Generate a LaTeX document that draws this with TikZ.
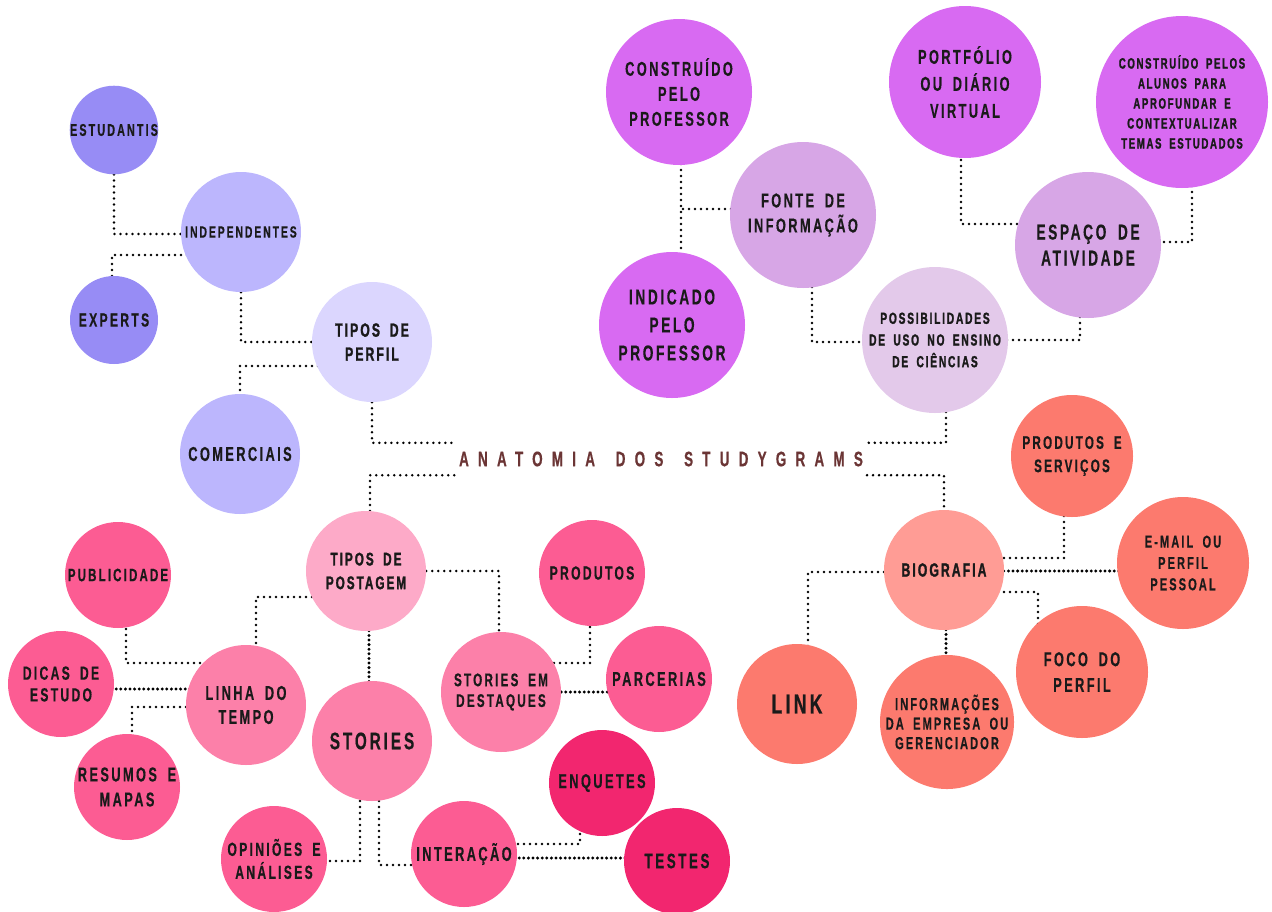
\documentclass[tikz,border=0pt]{standalone}
\usepackage{fontspec}
\usetikzlibrary{backgrounds,calc}
\newfontfamily\bb{Liberation Sans Bold}[FakeStretch=0.64, LetterSpace=12, WordSpace=1.8, FakeBold=0.4]
\newfontfamily\bbh{Liberation Sans Bold}[FakeStretch=0.64, LetterSpace=11, WordSpace=1.8, FakeBold=1.4]
\newfontfamily\bbt{Liberation Sans Bold}[FakeStretch=0.64, LetterSpace=44, WordSpace=1.6, FakeBold=0.6]
\definecolor{cA}{HTML}{978CF5}
\definecolor{cB}{HTML}{BCB6FD}
\definecolor{cC}{HTML}{DBD6FE}
\definecolor{cD}{HTML}{D86AF2}
\definecolor{cE}{HTML}{D7A6E6}
\definecolor{cF}{HTML}{E3C9EA}
\definecolor{cG}{HTML}{FF9C95}
\definecolor{cH}{HTML}{FC7A6E}
\definecolor{cI}{HTML}{FDAAC8}
\definecolor{cJ}{HTML}{FC80A9}
\definecolor{cK}{HTML}{FC5C93}
\definecolor{cL}{HTML}{F2266F}
\definecolor{txt}{HTML}{1A1A1A}
\definecolor{ttl}{HTML}{6B3535}
\tikzset{
  bub/.style={circle, draw=none, inner sep=0pt, align=center, text=txt},
  dots/.style={draw=black, line width=2.8pt, line cap=round, dash pattern=on 0pt off 6pt},
  densedots/.style={draw=black, line width=3.3pt, line cap=round, dash pattern=on 0pt off 4.6pt},
}
\newcommand{\fs}[2]{\fontsize{#1}{#2}\selectfont}
\begin{document}
\begin{tikzpicture}[x=1pt,y=-1pt]
\useasboundingbox (0,0) rectangle (1272,911);
% --- nodes ---
\node[bub, fill=cA, minimum size=88pt, font=\bb\fs{17}{20}] (estud) at (114,130) {ESTUDANTIS};
\node[bub, fill=cB, minimum size=120pt, font=\bb\fs{16.2}{19}] (indep) at (241,232) {INDEPENDENTES};
\node[bub, fill=cA, minimum size=88pt, font=\bb\fs{19}{22}] (experts) at (114,320) {EXPERTS};
\node[bub, fill=cC, minimum size=120pt, font=\bbh\fs{19}{24}] (tperfil) at (372,342) {TIPOS DE\\PERFIL};
\node[bub, fill=cB, minimum size=120pt, font=\bb\fs{20}{24}] (comerc) at (240,454) {COMERCIAIS};
\node[inner xsep=4pt, inner ysep=0pt, minimum height=32pt, text=ttl, font=\bbt\fs{21}{24}] (title) at (661,459) {ANATOMIA DOS STUDYGRAMS};
\node[bub, fill=cD, minimum size=146pt, font=\bb\fs{20}{25}] (construido) at (679,92) {CONSTRUÍDO\\PELO\\PROFESSOR};
\node[bub, fill=cE, minimum size=146pt, font=\bb\fs{20}{25}] (fonte) at (803,215) {FONTE DE\\INFORMAÇÃO};
\node[bub, fill=cD, minimum size=146pt, font=\bb\fs{21.5}{28}] (indicado) at (672,325) {INDICADO\\PELO\\PROFESSOR};
\node[bub, fill=cD, minimum size=152pt, font=\bb\fs{20}{27}] (portfolio) at (965,82) {PORTFÓLIO\\OU DIÁRIO\\VIRTUAL};
\node[bub, fill=cD, minimum size=172pt, font=\bbh\fs{15}{20}] (alunos) at (1182,102) {CONSTRUÍDO PELOS\\ALUNOS PARA\\APROFUNDAR E\\CONTEXTUALIZAR\\TEMAS ESTUDADOS};
\node[bub, fill=cE, minimum size=146pt, font=\bb\fs{21.5}{26}] (espaco) at (1088,245) {ESPAÇO DE\\ATIVIDADE};
\node[bub, fill=cF, minimum size=146pt, font=\bbh\fs{16}{21.7}] (possib) at (935,340) {POSSIBILIDADES\\DE USO NO ENSINO\\DE CIÊNCIAS};
\node[bub, fill=cG, minimum size=120pt, font=\bbh\fs{19}{22}] (biog) at (944,570) {BIOGRAFIA};
\node[bub, fill=cH, minimum size=122pt, font=\bb\fs{18.3}{23.3}] (prodserv) at (1072,456) {PRODUTOS E\\SERVIÇOS};
\node[bub, fill=cH, minimum size=132pt, font=\bb\fs{17.3}{21.3}] (email) at (1183,563) {E-MAIL OU\\PERFIL\\PESSOAL};
\node[bub, fill=cH, minimum size=132pt, font=\bb\fs{20}{25.7}] (foco) at (1082,672) {FOCO DO\\PERFIL};
\node[bub, fill=cH, minimum size=120pt, font=\bb\fs{27.5}{30}] (link) at (797,704) {LINK};
\node[bub, fill=cH, minimum size=132pt, font=\bb\fs{17.3}{19.5}] (infos) at (947,722) {INFORMAÇÕES\\DA EMPRESA OU\\GERENCIADOR};
\node[bub, fill=cI, minimum size=120pt, font=\bbh\fs{18.3}{23.7}] (tpost) at (366,571) {TIPOS DE\\POSTAGEM};
\node[bub, fill=cK, minimum size=106pt, font=\bb\fs{18}{21}] (public) at (118,575) {PUBLICIDADE};
\node[bub, fill=cK, minimum size=106pt, font=\bb\fs{19}{21.7}] (dicas) at (61,684) {DICAS DE\\ESTUDO};
\node[bub, fill=cJ, minimum size=120pt, font=\bb\fs{20}{24}] (linha) at (246,705) {LINHA DO\\TEMPO};
\node[bub, fill=cK, minimum size=106pt, font=\bb\fs{20}{25}] (resumos) at (127,787) {RESUMOS E\\MAPAS};
\node[bub, fill=cJ, minimum size=120pt, font=\bb\fs{24}{26}] (stories) at (372,741) {STORIES};
\node[bub, fill=cK, minimum size=106pt, font=\bb\fs{19}{22}] (produtos) at (592,573) {PRODUTOS};
\node[bub, fill=cJ, minimum size=120pt, font=\bb\fs{18.3}{20.7}] (destaques) at (501,692) {STORIES EM\\DESTAQUES};
\node[bub, fill=cK, minimum size=106pt, font=\bb\fs{20}{23}] (parcerias) at (659,679) {PARCERIAS};
\node[bub, fill=cL, minimum size=106pt, font=\bb\fs{20}{23}] (enquetes) at (602,783) {ENQUETES};
\node[bub, fill=cK, minimum size=106pt, font=\bb\fs{19}{23}] (opinioes) at (274,859) {OPINIÕES E\\ANÁLISES};
\node[bub, fill=cK, minimum size=106pt, font=\bb\fs{20}{23}] (interacao) at (464,854) {INTERAÇÃO};
\node[bub, fill=cL, minimum size=106pt, font=\bb\fs{21}{23}] (testes) at (677,861) {TESTES};
% --- connectors ---
\begin{scope}[on background layer]
\draw[dots] (estud) |- ([yshift=-2pt]indep.center);
\draw[dots] ([yshift=-23pt]indep.center) -| ([xshift=-2pt]experts.center);
\draw[dots] (indep) |- (tperfil);
\draw[dots] ([yshift=-24pt]tperfil.center) -| (comerc);
\draw[dots] (tperfil) |- (title.north west);
\draw[dots] ([xshift=4pt]tpost.center) |- (title.south west);
\draw[dots] ([xshift=11pt]possib.center) |- (title.north east);
\draw[dots] (title.south east) -| (biog);
% top middle
\coordinate (j1) at ([xshift=2pt]construido.center);
\coordinate (f1) at ([yshift=6pt]fonte.center);
\draw[dots] (j1) -- (j1 |- indicado.north);
\draw[dots] (f1) -- (j1 |- f1);
\draw[dots] ([xshift=9pt]fonte.center) |- ([yshift=-2pt]possib.center);
\draw[dots] ([xshift=-4pt]portfolio.center) |- ([yshift=21pt]espaco.center);
\draw[dots] ([xshift=10pt]alunos.center) |- ([yshift=3pt]espaco.center);
\draw[dots] ([xshift=-8pt]espaco.center) |- ([yshift=0pt]possib.center);
% biografia
\draw[dots] ([xshift=-8pt]prodserv.center) |- ([yshift=12pt]biog.center);
\coordinate (b1) at ([yshift=-1pt]biog.center);
\draw[densedots] (b1) -- (b1 -| email);
\draw[dots] ([yshift=-22pt]biog.center) -| ([xshift=-44pt]foco.center);
\coordinate (b2) at ([xshift=2pt]biog.center);
\draw[densedots] (b2) -- (b2 |- infos);
\draw[dots] ([yshift=-2pt]biog.center) -| ([xshift=11pt]link.center);
% postagem
\draw[dots] (tpost) -| ([xshift=-2pt]destaques.center);
\draw[dots] ([yshift=-26pt]tpost.center) -| ([xshift=10pt]linha.center);
\coordinate (p1) at ([xshift=3pt]tpost.center);
\draw[densedots] (p1) -- (p1 |- stories);
\draw[dots] ([xshift=8pt]public.center) |- ([yshift=42pt]linha.center);
\coordinate (d1) at ([yshift=-5pt]dicas.center);
\draw[densedots] (d1) -- (d1 -| linha);
\draw[dots] ([yshift=-2pt]linha.center) -| ([xshift=5pt]resumos.center);
\draw[dots] ([xshift=-2pt]produtos.center) |- ([yshift=29pt]destaques.center);
\draw[densedots] (destaques) -- (destaques -| parcerias);
\draw[dots] ([xshift=-12pt]stories.center) |- ([yshift=-2pt]opinioes.center);
\draw[dots] ([xshift=7pt]stories.center) |- ([yshift=-11pt]interacao.center);
\draw[dots] ([yshift=10pt]interacao.center) -| ([xshift=-22pt]enquetes.center);
\coordinate (i1) at ([yshift=-4pt]interacao.center);
\draw[densedots] (i1) -- (i1 -| testes);
\end{scope}
\end{tikzpicture}
\end{document}
